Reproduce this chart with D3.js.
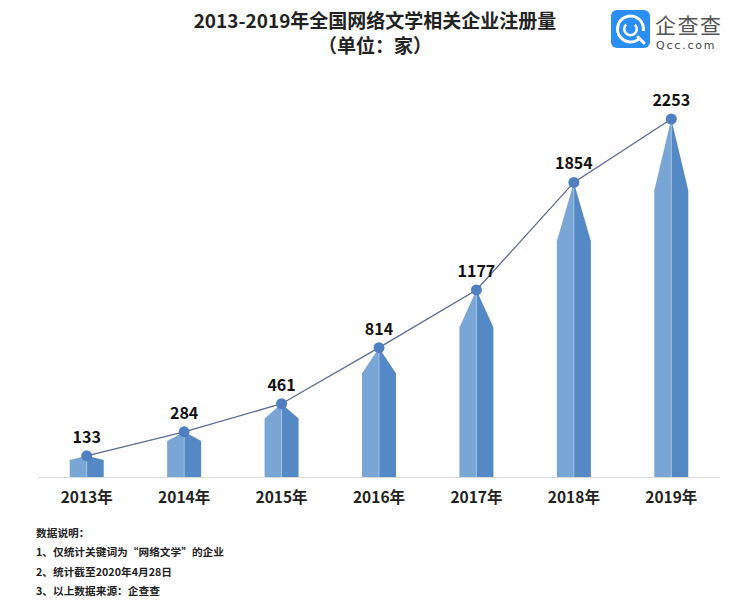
<!DOCTYPE html>
<html><head><meta charset="utf-8">
<script src="https://cdn.jsdelivr.net/npm/d3@7"></script>
<style>body{margin:0;background:#fff;font-family:"Noto Sans CJK SC","Noto Sans",sans-serif;}</style>
</head><body><svg id="c" width="750" height="602"></svg>
<script>
const categories = ["2013年","2014年","2015年","2016年","2017年","2018年","2019年"];
const values = [133, 284, 461, 814, 1177, 1854, 2253];
const titleLines = ["2013-2019年全国网络文学相关企业注册量","（单位：家）"];
const notes = ["数据说明：","1、仅统计关键词为“网络文学”的企业","2、统计截至2020年4月28日","3、以上数据来源：企查查"];

const svg = d3.select("#c");
const font = '"Noto Sans CJK SC","Noto Sans",sans-serif';
const x = d3.scaleBand().domain(categories).range([38, 720]).paddingInner(0).paddingOuter(0);
const y = d3.scaleLinear().domain([0, 2253]).range([477, 119]);
const bw = 34;

// title
svg.selectAll("text.title").data(titleLines).join("text")
  .attr("x", 375).attr("y", (d,i)=>28+i*25).attr("text-anchor","middle")
  .attr("font-family", font).attr("font-weight","bold").attr("font-size",19).attr("fill","#222").text(d=>d);

// logo
const lg = svg.append("g").attr("transform","translate(611,10)");
lg.append("rect").attr("width",39).attr("height",38).attr("rx",6).attr("fill","#2a8ef2");
lg.append("path").attr("d", d3.arc()({innerRadius:11.5, outerRadius:14.5, startAngle:0.2*Math.PI+Math.PI*0.55, endAngle:2*Math.PI+Math.PI*0.55}))
  .attr("transform","translate(19.5,19)").attr("fill","#fff");
lg.append("path").attr("d","M27,27 L33,33").attr("stroke","#fff").attr("stroke-width",3).attr("stroke-linecap","round");
lg.append("path").attr("d", d3.arc()({innerRadius:5, outerRadius:7.5, startAngle:0.25*Math.PI, endAngle:1.75*Math.PI}))
  .attr("transform","translate(19.5,19)").attr("fill","#fff");
svg.append("text").attr("x",655).attr("y",33).attr("font-family",font).attr("font-size",21).attr("fill","#555").attr("letter-spacing",1.5).text("企查查");
svg.append("text").attr("x",656).attr("y",49).attr("font-family","DejaVu Sans, sans-serif").attr("font-size",11).attr("fill","#444").attr("letter-spacing",1.8).text("Qcc.com");

// axis
svg.append("line").attr("x1",38).attr("x2",720).attr("y1",477.5).attr("y2",477.5).attr("stroke","#d9d9d9").attr("stroke-width",1);
const xAxis = d3.axisBottom(x).tickSize(0).tickPadding(0);
const ag = svg.append("g").attr("transform","translate(0,477)").call(xAxis);
ag.select(".domain").remove();
ag.selectAll("text").attr("font-family",font).attr("font-weight","bold").attr("font-size",15.5).attr("fill","#222").attr("dy","1.7em");

// bars (arrow-shaped, two halves)
const bars = svg.append("g");
categories.forEach((c,i)=>{
  const cx = x(c) + x.bandwidth()/2;
  const v = values[i];
  const tip = y(v), sh = y(v*0.8), b = y(0);
  bars.append("path").attr("d",`M${cx},${b} L${cx-bw/2},${b} L${cx-bw/2},${sh} L${cx},${tip} Z`).attr("fill","#7aa6d6");
  bars.append("path").attr("d",`M${cx},${b} L${cx+bw/2},${b} L${cx+bw/2},${sh} L${cx},${tip} Z`).attr("fill","#5589c6");
  bars.append("line").attr("x1",cx).attr("x2",cx).attr("y1",b).attr("y2",tip).attr("stroke","#a9c6e6").attr("stroke-width",0.8);
});

// line
const line = d3.line().x((d,i)=>x(categories[i])+x.bandwidth()/2).y(d=>y(d));
svg.append("path").datum(values).attr("d",line).attr("fill","none").attr("stroke","#5c6b95").attr("stroke-width",1.3);
svg.selectAll("circle.pt").data(values).join("circle")
  .attr("cx",(d,i)=>x(categories[i])+x.bandwidth()/2).attr("cy",d=>y(d)).attr("r",5.5).attr("fill","#4f7fc0");
svg.selectAll("text.val").data(values).join("text")
  .attr("x",(d,i)=>x(categories[i])+x.bandwidth()/2).attr("y",d=>y(d)-13).attr("text-anchor","middle")
  .attr("font-family",font).attr("font-weight","bold").attr("font-size",16).attr("fill","#111").text(d=>d);

// notes
svg.selectAll("text.note").data(notes).join("text")
  .attr("x",36).attr("y",(d,i)=>537+i*19.3).attr("font-family",font).attr("font-weight","bold").attr("font-size",10.7).attr("fill","#222").text(d=>d);
</script></body></html>
